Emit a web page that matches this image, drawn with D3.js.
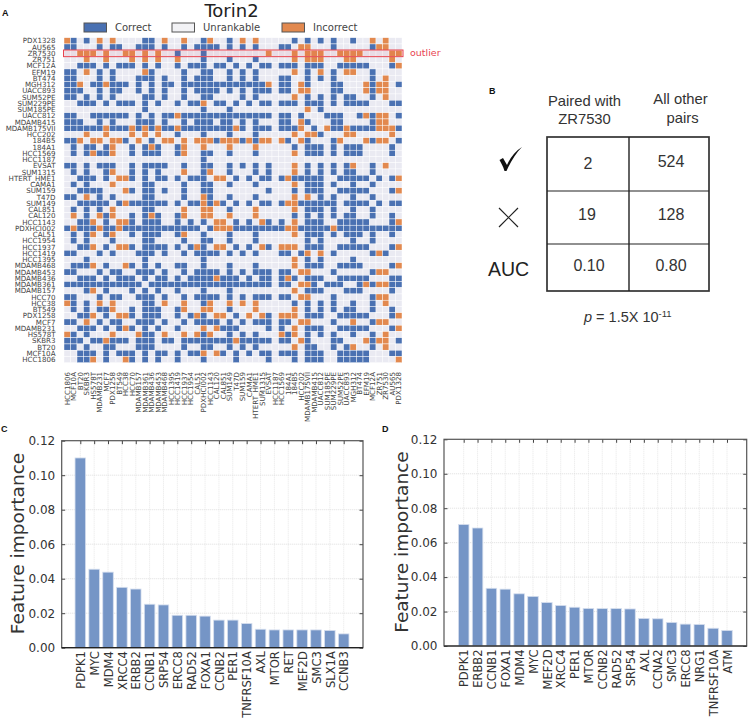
<!DOCTYPE html>
<html><head><meta charset="utf-8">
<script src="https://cdn.jsdelivr.net/npm/d3@7/dist/d3.min.js"></script>
<style>html,body{margin:0;padding:0;background:#fff}svg{display:block}text{font-family:"DejaVu Sans",sans-serif}.ar text,text.ar{font-family:"Liberation Sans",Arial,sans-serif}</style>
</head><body><svg id="c" width="748" height="722"></svg>
<script>
const rowLabels=["PDX1328","AU565","ZR7530","ZR751","MCF12A","EFM19","BT474","MGH312","UACC893","SUM52PE","SUM229PE","SUM185PE","UACC812","MDAMB415","MDAMB175VII","HCC202","184B5","184A1","HCC1569","HCC1187","EVSAT","SUM1315","HTERT_HME1","CAMA1","SUM159","T47D","SUM149","CAL851","CAL120","HCC1143","PDXHCI002","CAL51","HCC1954","HCC1937","HCC1419","HCC1395","MDAMB468","MDAMB453","MDAMB436","MDAMB361","MDAMB157","HCC70","HCC38","BT549","PDX1258","MCF7","MDAMB231","HS578T","SKBR3","BT20","MCF10A","HCC1806"];
const colLabels=rowLabels.slice().reverse();
// per row: column indexes of ranked cells; suffix o = incorrect, none = correct
const pairRows=[
"0o 1 3 5o 7o 12 13 15o 18o 21 22o 25 27o 29o 35 37 39 41 44 47o 49o",
"0 1 5 7 8 11 12 13 15 18 20 21 22 23 25 27 29 33 34 36o 37o 41 47 48o 49o",
"2o 3o 4o 6o 9o 10o 12o 14o 17 21 31o 35o 37o 38o 39o 42o 43o 44o 45o 50o 51o",
"3o 6o 10o 12o 14o 17o 21 25 29 35o 37o 38o 39o 43o 44o 50o",
"2 3 4 6 8 9 10 12 14 17 19 20 21 23 24 26 28 30 31 33 34 35 37 38 39 42 43 44 45 46 50 51o",
"0 1 3o 5 7 12o 13 18 21 22 25 27 29 35o 37 39o 41 43o 44o 47",
"0 1 5 7 11 12 13 15 18 20 21 22 25 27 29 33 34 37 39 41 47 49o",
"0 1 2o 4 5 6o 7 8 9 11 13 15 16 18 19 20 21 22 23 24 25 26 27 28 29 30 31o 33 34 36o 37 41 42 46o 47 48o 49o 51",
"0 1 2 5 7 8 11 13 15 18 20 21 22 23 25 27 29 30 31 33 34 36o 37o 41 42 46o 47 48o 49o",
"0 1 3 5 7 12 13 15 18 21 22 27 29 35o 37 39 41 43 44 47 49o",
"2 3 4 6 8 9 10 12 14 17 19 20 21o 23 24 26 28 30 31 33 34 35 37 38 39 41 43 44 45 46 50 51",
"12 21 25 37o 39",
"0 1 4 5 6 7 8 9 11 13 15 16 17o 18 19 20 21 22 23 24 25 26 27 28 29 30 31 33 34 36 40 41 42 45 46o 47 48o 49o 51",
"0 1 2 5 7 11 12 13 15 18 20 21 22 24 25 27 29 33 34 36o 37 41 42 47 48o 49o",
"0 1 2 3 4 5 6o 7 8 9 10o 11 12o 13 14o 15 16 17o 18 19 20 21 22 23 24 25 26o 27 29 30 31 33 34 35 36o 38 40o 41 42 43o 44 45 46 47 48o 49o 50o 51",
"3o 6o 10o 12o 14o 17 21 25 29 35o 37o 38o 39 43o 44o 50o",
"0 1 2o 4o 5o 7o 8o 9 11o 13 15o 16o 18o 20o 21o 22o 23 24o 25o 26o 27 28o 29 30o 31o 33o 34 36o 37 41 42o 46o 47 48o 49o 51",
"1 3 4 6 7o 10 12 13o 14 17 18o 21o 25o 29o 35 37 38 39 41 43 44 45 50",
"1 3 4o 5 6 7o 10 12 13 14 17 18o 21 22 25 29 35o 37 38 39 41 43 44 45 50",
"21",
"0 1 3 5 6 7 10 12 13 14 15 18 21 22 25 27 29 31 35o 37 39 41 43 44o 47 49o",
"1 3 6 7o 10 12 14 18o 21 22o 25 29 31 35o 37 39 41 43 44 47",
"2 3 4 6 8o 9o 10 12 14 15 17 19 20 21 23o 24o 26 28 30 31 33 34o 35 36 37 38 39 42 43 44 45 46 48 50 51o",
"1 3 7o 12 13 18 21 22 25 29 35o 37 38 39 41 44 47",
"2 3 4 5 9o 10 12 13 15 18 21 22 31 35 37 38 39 42 43 44 45 46 50 51o",
"0 1 3o 5 7 12 13 18 21o 22 25 29 35o 37o 39 41 44 47",
"2 3 4 5 6 8 9o 10 11 12 13 14 15 17 19 20 21o 22 23o 24 26 28 30 31 33 34o 35o 36 37 38 39 40 41 43 44 45 46 48 50 51",
"1 3 5 7o 12 13 18o 21o 22o 25 29o 35o 37 38 39 41 44 47",
"1o 3 5o 6 7o 10 12 13o 14 17 18o 21o 22o 25o 29o 35 37 39 41 43 44 47 50",
"2 3 4o 6 8o 9o 10 12 13 14 17 19 21 23o 24o 26 28 30o 31 33 35o 37 38 39 42 43 44 45 46 50 51o",
"0 1o 2 3 4 5o 6 7 8o 9 10 11 12 13 14 15 16 17 18 19 20 22 23o 24o 25o 26 27 28 29 30 31 32 33 34o 35o 36 37 38 39 40 41o 42 43 44 45 46 47 48 49 50 51",
"1 3 4o 6 7o 10 12 13 14 17 18o 21 25 29 35o 37 38 39 41 43 44 45 47 50",
"1 3 7 12 13 18 21 22 25 29 37 39 44 47",
"2 3 4o 6 8o 9o 10 12 13 14 15 17 19 20o 21 23o 24o 26 28 30o 31 33o 34o 35o 37 38 39 42 43 44 45 46 50 51o",
"0 1 5 7 11 12 13 15 18 20 21 22 23 25 27 29 33 34 36 37o 39o 41 47 48o 49",
"3 12 21 35o 37 39 44",
"1 2 3 4o 6 9o 10 12 14 17 18 21 25 29 35o 37 38 39 42 43 44 45 50 51o",
"0 1 5 7 8 11 12 13 15 18 20 21 22 23 25 27 29 30 31 33 34 36o 37o 41 47 48o 49o",
"2 3 4 6 8 9 10 12 14 15 17 19 20 21 22 23o 24 25 26 28 30 31 33 34o 35 37 38 39 42 43 44 45 46 50 51",
"0 1 2 3 4 5 6 7 8 9 10 11 13 14 15 16 17 18 19 20 21 22 23 24 25 26 27 28 29 30 31 33 34 36o 37o 38 40 41 42 45 46o 47 48o 49o 50 51",
"3 4o 6 10 12 14 17 21 25 35o 37 38 39 43 44 45 50",
"0 1 5 7 8 11 12 13 15 18 20 21 22 23 25 27 29 30 31 33 34 36o 37o 41 47 48o 49o",
"0o 1 3 5o 7o 12 13 15o 18o 21 22o 25o 27o 29o 35 37 39 41 44 47 49o",
"1 3 5 6 7o 10 12 13 14 17 18o 21o 22o 25 29o 35o 37 39 41 43 44 47 50",
"2 3 4o 6 8o 9o 10 12 13 14 17 19 20o 21 23o 24o 26 28o 30o 31 33o 34o 35o 37 38 39 42 43 44 45 46 50 51o",
"0 1 3o 5 7 8 11 12 13 15 18 20 21 22 23 25 27 29 30 31 33 34 36o 37o 41 44o 47 48o 49o",
"2 3 4 6 8 9o 10 12 14 17 21o 23o 24 25 26 31 33 35o 37 38 39 42 43 44 45 46 50 51o",
"0o 1 3 7o 11o 12 13 15o 18o 20o 21 22o 25 27 29 33o 34 35o 37 39 41 44 47 49o",
"0 1 2 4 5 6o 7 8 9 11 12 13 15 16 18 19 20 21 22 23 24 25 26o 27 28 29 30 31 33 34 36o 37 41 42 46o 47 48o 49o 51",
"0 1 3 6 7 11 12 13 18 21 22 25 27 29 35o 37 38 41 43 44o 47 49o",
"2 3 4 6 8 9 10 12 14 15 17 19 20 21o 23o 24 26 28 30 31 33 34 35 37 38 39 42 43 44 45 46 50 51",
"2 3 4o 6 9o 10 12 14 17 21 26 31 35 37 38 39 42 43 44 45 46 51o"
];
const legendLabels=["Correct","Unrankable","Incorrect"];
const tableHeaders=[["Paired with","ZR7530"],["All other","pairs"]];
const tableValues=[["2","524"],["19","128"],["0.10","0.80"]];
const yTicks=[0,0.02,0.04,0.06,0.08,0.10,0.12];
const genesC=["PDPK1","MYC","MDM4","XRCC4","ERBB2","CCNB1","SRP54","ERCC8","RAD52","FOXA1","CCNB2","PER1","TNFRSF10A","AXL","MTOR","RET","MEF2D","SMC3","SLX1A","CCNB3"];
const valuesC=[0.110,0.0455,0.0438,0.035,0.034,0.0252,0.0248,0.0188,0.0188,0.0183,0.016,0.016,0.014,0.0107,0.0103,0.0103,0.0103,0.0103,0.0100,0.0080];
const genesD=["PDPK1","ERBB2","CCNB1","FOXA1","MDM4","MYC","MEF2D","XRCC4","PER1","MTOR","CCNB2","RAD52","SRP54","AXL","CCNA2","SMC3","ERCC8","NRG1","TNFRSF10A","ATM"];
const valuesD=[0.0705,0.0685,0.0335,0.033,0.0303,0.0288,0.0252,0.0235,0.0225,0.0218,0.0217,0.0217,0.0215,0.016,0.0158,0.0137,0.0127,0.0125,0.0103,0.0090];

const BLUE="#4A71B2",ORANGE="#E2894F",BG="#EAEAF2",RED="#E8434F";
const svg=d3.select("#c");
const cols=d3.range(52);
const x=d3.scaleBand().domain(cols).range([64,402]);
const y=d3.scaleBand().domain(cols).range([37.7,362.7]);
const cells=[];
pairRows.forEach((s,r)=>{const m=new Map(s.split(" ").map(t=>t.endsWith("o")?[+t.slice(0,-1),ORANGE]:[+t,BLUE]));
  cols.forEach(c=>cells.push({r,c,f:m.get(c)||BG}));});
const hm=svg.append("g");
hm.selectAll("rect").data(cells).join("rect")
  .attr("x",d=>x(d.c)).attr("y",d=>y(d.r)).attr("width",x.bandwidth()).attr("height",y.bandwidth())
  .attr("fill",d=>d.f).attr("stroke","#fff").attr("stroke-width",0.45);
hm.append("g").selectAll("text").data(rowLabels).join("text")
  .attr("x",55.5).attr("y",(d,i)=>y(i)+y.bandwidth()/2+2.6).attr("text-anchor","end")
  .attr("font-size",7.1).attr("fill","#444").text(d=>d);
hm.append("g").selectAll("text").data(colLabels).join("text")
  .attr("transform",(d,i)=>`translate(${x(i)+x.bandwidth()/2+2.5},372) rotate(-90)`).attr("text-anchor","end")
  .attr("font-size",7.1).attr("fill","#444").text(d=>d);
// outlier box
const band=svg.append("g");
band.append("rect").attr("x",63.5).attr("y",y(2)-0.2).attr("width",339.5).attr("height",y.bandwidth()+0.4)
  .attr("fill",RED).attr("fill-opacity",0.08).attr("stroke",RED).attr("stroke-width",1);
band.append("text").attr("x",410).attr("y",56).attr("font-size",9.5).attr("fill",RED).text("outlier");
// title & legend
svg.append("text").attr("x",231.5).attr("y",17).attr("text-anchor","middle").attr("font-size",18).attr("fill","#222").text("Torin2");
const legX=[84,172,282],legT=[115,203,313],legC=[BLUE,"#F2F2F5",ORANGE];
legendLabels.forEach((l,i)=>{
  svg.append("rect").attr("x",legX[i]).attr("y",23).attr("width",22.5).attr("height",9).attr("fill",legC[i]).attr("stroke","#555").attr("stroke-width",1);
  svg.append("text").attr("x",legT[i]).attr("y",31).attr("font-size",10).attr("fill","#444").text(l);
});
const panel=(t,px,py)=>svg.append("text").attr("class","ar").attr("x",px).attr("y",py).attr("font-size",9).attr("font-weight","bold").attr("fill","#111").text(t);
panel("A",2,16);panel("B",489,94);panel("C",1,432);panel("D",382,432);

// Panel B
const tx=[547,629,709],ty=[137,191,244,291];
const tb=svg.append("g");
tb.append("rect").attr("x",tx[0]).attr("y",ty[0]).attr("width",tx[2]-tx[0]).attr("height",ty[3]-ty[0]).attr("fill","none").attr("stroke","#333").attr("stroke-width",1.7);
tb.append("line").attr("x1",tx[1]).attr("x2",tx[1]).attr("y1",ty[0]).attr("y2",ty[3]).attr("stroke","#222").attr("stroke-width",1.4);
[1,2].forEach(i=>tb.append("line").attr("x1",tx[0]).attr("x2",tx[2]).attr("y1",ty[i]).attr("y2",ty[i]).attr("stroke","#222").attr("stroke-width",1.2));
const hx=[584.5,680.5],hy=[[105.5,124],[104,123]];
tableHeaders.forEach((h,i)=>h.forEach((t,j)=>tb.append("text").attr("class","ar").attr("x",hx[i]+(i==1&&j==1?2:0)).attr("y",hy[i][j]).attr("text-anchor","middle").attr("font-size",14.8).attr("fill","#333").text(t)));
const cx=[[588,671],[587,671],[589,671]],cy=[[168.5,167],[219.5,219.5],[270.5,270.5]];
tableValues.forEach((rw,r)=>rw.forEach((t,c)=>tb.append("text").attr("class","ar").attr("x",cx[r][c]).attr("y",cy[r][c]).attr("text-anchor","middle").attr("font-size",16).attr("fill","#333").text(t)));
tb.append("path").attr("d","M499.5 160 L503 158 L507 165 C510.5 157 515.5 151 522 147 C516 153 511 161 506.5 171 L504.5 171 C503 166 501 163 499.5 160Z").attr("fill","#111");
tb.append("path").attr("d","M499 208 L518 227 M518 208 L499 227").attr("stroke","#222").attr("stroke-width",1.2).attr("fill","none");
tb.append("text").attr("class","ar").attr("x",508.5).attr("y",276).attr("text-anchor","middle").attr("font-size",19.5).attr("fill","#222").text("AUC");
const pt=tb.append("text").attr("class","ar").attr("x",584).attr("y",322).attr("font-size",14.5).attr("fill","#333");
pt.append("tspan").attr("font-style","italic").text("p");
pt.append("tspan").text(" = 1.5X 10");
pt.append("tspan").attr("font-size",9.5).attr("dy",-5.5).text("-11");

// Bars
function bars(genes,vals,L,R,T,B,c0,c1,ylabX,ylabY){
  const g=svg.append("g");
  const ys=d3.scaleLinear().domain([0,0.12]).range([B,T]);
  const xs=d3.scalePoint().domain(genes).range([c0,c1]);
  const bw=(c1-c0)/19*0.76;
  g.append("g").selectAll("line").data(yTicks.slice(1,-1)).join("line")
    .attr("x1",L).attr("x2",R).attr("y1",d=>ys(d)).attr("y2",d=>ys(d)).attr("stroke","#ddd").attr("stroke-width",0.8).attr("stroke-dasharray","1.2,0.8");
  g.append("g").selectAll("line").data(genes).join("line")
    .attr("x1",d=>xs(d)).attr("x2",d=>xs(d)).attr("y1",T).attr("y2",B).attr("stroke","#ddd").attr("stroke-width",0.7).attr("stroke-dasharray","1,1");
  g.append("g").selectAll("rect").data(d3.zip(genes,vals)).join("rect")
    .attr("x",d=>xs(d[0])-bw/2).attr("width",bw).attr("y",d=>ys(d[1])).attr("height",d=>B-ys(d[1]))
    .attr("fill","#7595C6").attr("stroke","#D5DEEE").attr("stroke-width",0.8);
  const la=d3.axisLeft(ys).tickValues(yTicks).tickFormat(d3.format(".2f")).tickSize(-3.5).tickPadding(6.5);
  const ag=g.append("g").attr("transform",`translate(${L},0)`).call(la);
  ag.select(".domain").remove();
  ag.selectAll("text").attr("font-size",12).attr("fill","#333").attr("font-family",'"DejaVu Sans"');
  ag.selectAll("line").attr("stroke","#444");
  const ra=g.append("g").attr("transform",`translate(${R},0)`).call(d3.axisRight(ys).tickValues(yTicks).tickFormat("").tickSize(-3.5));
  ra.select(".domain").remove(); ra.selectAll("line").attr("stroke","#444");
  const ta=g.append("g").attr("transform",`translate(0,${T})`).call(d3.axisTop(xs).tickFormat("").tickSize(-3.5));
  ta.select(".domain").remove(); ta.selectAll("line").attr("stroke","#444");
  const ba=g.append("g").attr("transform",`translate(0,${B})`).call(d3.axisBottom(xs).tickSize(0).tickPadding(0));
  ba.select(".domain").remove();
  ba.selectAll("text").attr("transform",d=>`translate(4.2,3.5) rotate(-90)`).attr("x",0).attr("y",0).attr("dy",0).attr("text-anchor","end").attr("font-size",11.5).attr("fill","#333").attr("font-family",'"DejaVu Sans"');
  g.append("rect").attr("x",L).attr("y",T).attr("width",R-L).attr("height",B-T).attr("fill","none").attr("stroke","#555").attr("stroke-width",1.2);
  g.append("line").attr("x1",L).attr("x2",R).attr("y1",B).attr("y2",B).attr("stroke","#222").attr("stroke-width",1.2);
  g.append("text").attr("transform",`translate(${ylabX},${ylabY}) rotate(-90)`).attr("text-anchor","middle").attr("font-size",18.5).attr("fill","#333").text("Feature importance");
}
bars(genesC,valuesC,61.7,363,440.7,647.7,80.3,343.7,24,543.5);
bars(genesD,valuesD,444,746.7,439.3,646,463.7,727,407.5,542);
</script></body></html>
